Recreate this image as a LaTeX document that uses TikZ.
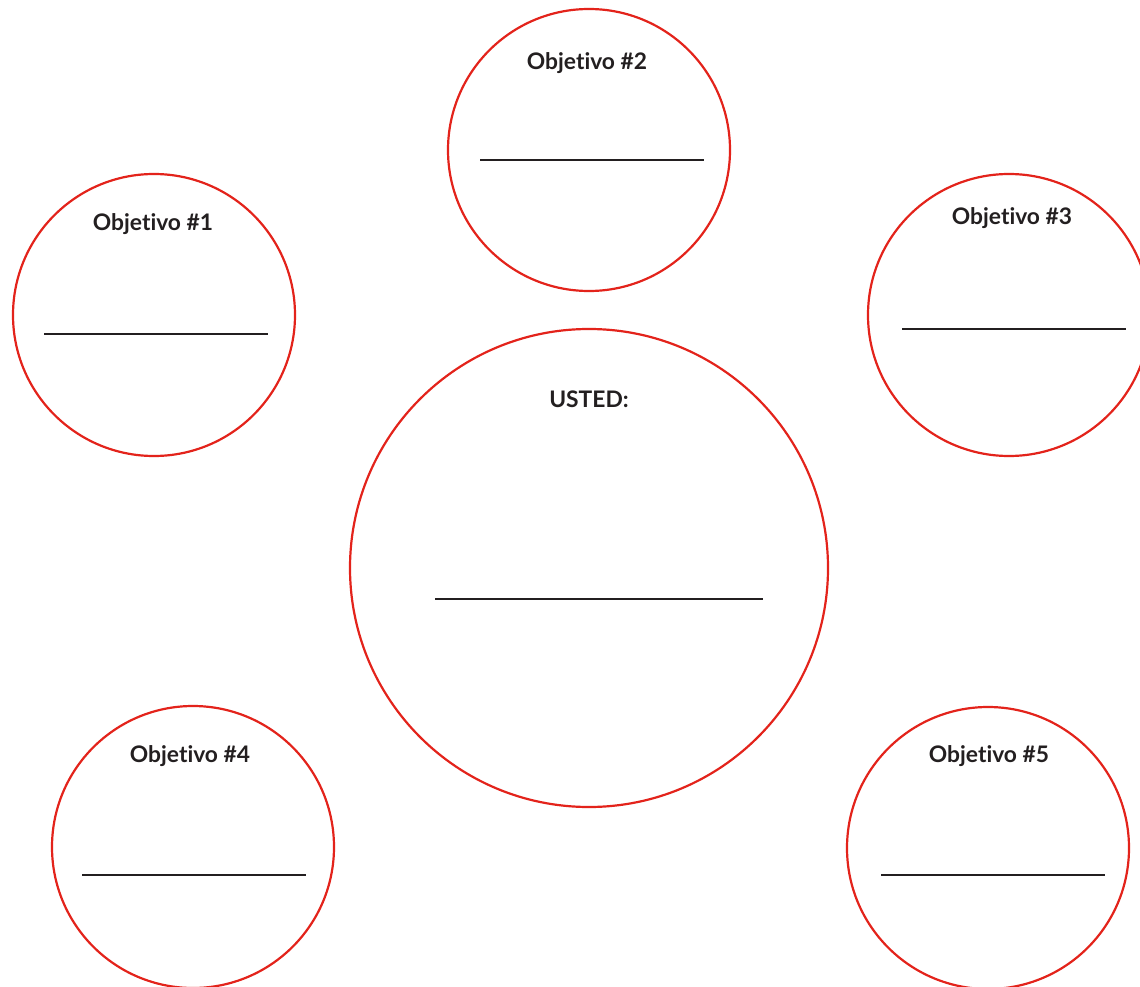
\documentclass[tikz,border=0pt]{standalone}
\usepackage{fontspec}
\setmainfont{Lato}[Ligatures=NoCommon]
\usetikzlibrary{positioning}
\definecolor{goalred}{HTML}{E3231B}
\definecolor{inkgray}{HTML}{231F20}
\tikzset{
  goal/.style={circle,draw=goalred,line width=2.2pt,minimum size=282pt,inner sep=0pt},
  goaltitle/.style={font=\bfseries\fontsize{22.8}{26}\selectfont,text=inkgray},
  blank/.style={draw=inkgray,line width=2pt}
}
\begin{document}
\begin{tikzpicture}[x=1pt,y=-1pt]
  \useasboundingbox (0,0) rectangle (1140,987);
  \clip (0,0) rectangle (1140,987);
  % centre circle
  \node[goal,minimum size=478pt] (usted) at (589,568) {};
  \node[goaltitle] (usted-title) at (589,399) {USTED:};
  \coordinate (usted-blank) at (599,599);
  \draw[blank] ([xshift=-164pt]usted-blank) -- ([xshift=164pt]usted-blank);
  % the five goals
  \foreach \i/\cx/\cy/\tx/\ty/\lx/\ly in {1/154/315/153/224/156/334,
      2/589/150/587/63/592/160, 3/1009/315/1012/218/1014/329,
      4/193/847/190/756/194/875, 5/988/848/989/756/993/875}{
    \node[goal] (goal\i) at (\cx,\cy) {};
    \node[goaltitle] (title\i) at (\tx,\ty) {Objetivo \#\i};
    \coordinate (blank\i) at (\lx,\ly);
    \draw[blank] ([xshift=-112pt]blank\i) -- ([xshift=112pt]blank\i);
  }
\end{tikzpicture}
\end{document}
